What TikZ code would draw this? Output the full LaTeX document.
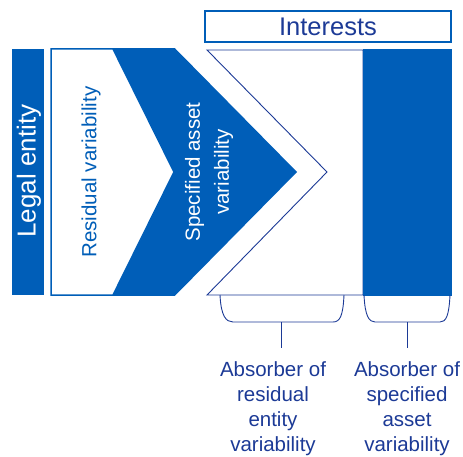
\documentclass[tikz,border=0pt]{standalone}
\usepackage{fontspec}
\setmainfont{Liberation Sans}
\usetikzlibrary{positioning}
\definecolor{veblue}{RGB}{0,94,184}
\definecolor{venavy}{RGB}{28,58,150}

\begin{document}
\begin{tikzpicture}[x=1pt,y=-1pt,every node/.style={inner sep=0pt},
      vtext/.style={rotate=90,align=center,font=\fontsize{20.5}{29}\selectfont},
      absorber/.style={anchor=north,align=center,text=venavy,font=\fontsize{20.5}{25}\selectfont}]
    \useasboundingbox (0,0) rectangle (463,457);
    % Interests
    \node[draw=veblue,line width=1.3pt,minimum width=246pt,minimum height=31pt,
          text=venavy,font=\fontsize{25.5}{30}\selectfont] (interests) at (328,26.5) {Interests};
    % Legal entity
    \fill[veblue] (12,49) rectangle (44,295);
    \node[vtext,text=white,font=\fontsize{26}{30}\selectfont] (legal) at (29,171) {Legal entity};
    % Variability chevrons
    \filldraw[fill=white,draw=veblue,line width=1.5pt] (51,49) -- (113,49) -- (174,172) -- (113,295) -- (51,295) -- cycle;
    \fill[veblue] (113,48.25) -- (175,48.25) -- (297,172) -- (175,295.75) -- (113,295.75) -- (174,172) -- cycle;
    \node[vtext,text=veblue] (resid) at (91,172) {Residual variability};
    \node[vtext,text=white] (spec) at (209,172) {Specified asset\\variability};
    % Absorbers
    \filldraw[fill=white,draw=venavy,line width=0.9pt] (207,50) -- (363,50) -- (363,295) -- (207,295) -- (327,172) -- cycle;
    \filldraw[fill=veblue,draw=veblue] (363,49) rectangle (451,295);
    \draw[venavy,line width=0.9pt] (220,295) .. controls (221,316) and (226,322) .. (233,322) -- (333,322)
          .. controls (340,322) and (343,316) .. (344,295);
    \draw[venavy,line width=0.9pt] (364,295) .. controls (365,316) and (369,322) .. (375,322) -- (440,322)
          .. controls (446,322) and (449,316) .. (450,295);
    \coordinate (resbrace) at (281,322);
    \coordinate (specbrace) at (407,322);
    \node[absorber] (absres)  at (273,361) {Absorber of\\residual\\entity\\variability};
    \node[absorber] (absspec) at (407,361) {Absorber of\\specified\\asset\\variability};
    \draw[venavy,line width=0.9pt] (resbrace) -- ++(0,26);
    \draw[venavy,line width=0.9pt] (specbrace) -- ++(0,26);
  \end{tikzpicture}
\end{document}
